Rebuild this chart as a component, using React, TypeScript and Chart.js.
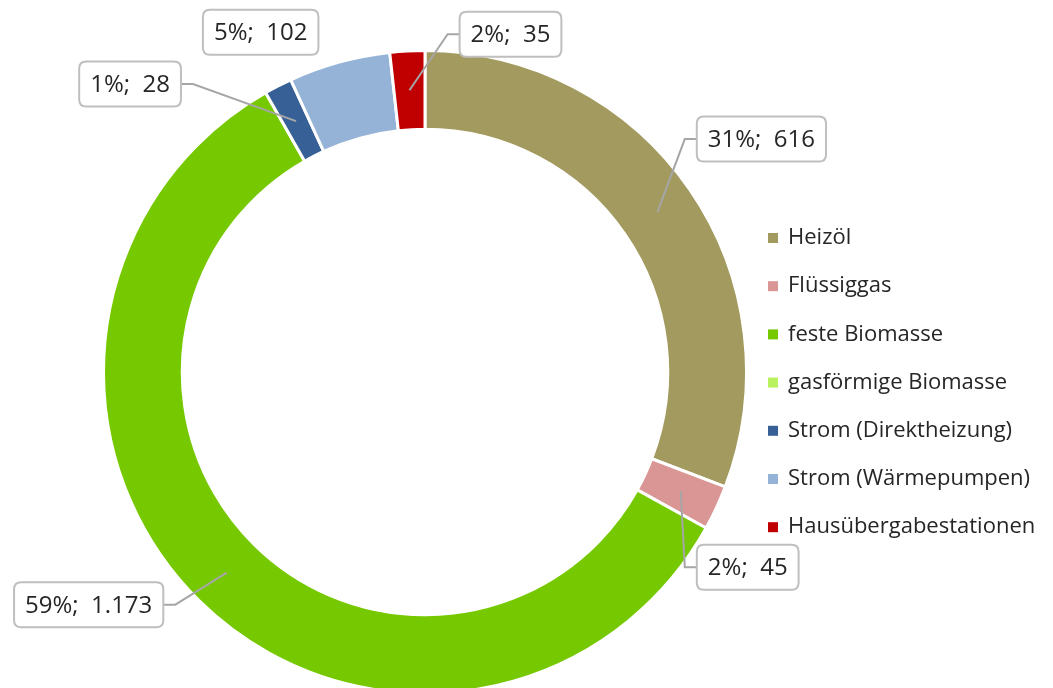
import React, { useEffect, useRef } from "react";
import { Chart, registerables } from "chart.js";

Chart.register(...registerables);

const categories = [
  "Heizöl",
  "Flüssiggas",
  "feste Biomasse",
  "gasförmige Biomasse",
  "Strom (Direktheizung)",
  "Strom (Wärmepumpen)",
  "Hausübergabestationen",
];
const values = [616, 45, 1173, 0, 28, 102, 35];

const colors = ["#A39A5F", "#DA9694", "#76C900", "#B9F25E", "#376196", "#95B3D7", "#C00000"];

// label box offsets from the arc mid-point (layout only), null = no label
const labelOffsets: ([number, number] | null)[] = [
  [104, -73],
  [67, 76],
  [-138, 32],
  null,
  [-166, -37],
  [-89, -68],
  [101, -56],
];
const drawLeader = [true, true, true, false, true, false, true];

const FONT = "'Open Sans', 'Noto Sans', sans-serif";

function fmtDe(n: number): string {
  const s = String(Math.round(n));
  return s.replace(/\B(?=(\d{3})+(?!\d))/g, ".");
}

function roundRect(ctx: CanvasRenderingContext2D, x: number, y: number, w: number, h: number, r: number) {
  ctx.beginPath();
  ctx.moveTo(x + r, y);
  ctx.lineTo(x + w - r, y);
  ctx.quadraticCurveTo(x + w, y, x + w, y + r);
  ctx.lineTo(x + w, y + h - r);
  ctx.quadraticCurveTo(x + w, y + h, x + w - r, y + h);
  ctx.lineTo(x + r, y + h);
  ctx.quadraticCurveTo(x, y + h, x, y + h - r);
  ctx.lineTo(x, y + r);
  ctx.quadraticCurveTo(x, y, x + r, y);
  ctx.closePath();
}

const labelPlugin = {
  id: "calloutLabels",
  afterDatasetsDraw(chart: any) {
    const ctx: CanvasRenderingContext2D = chart.ctx;
    const meta = chart.getDatasetMeta(0);
    const total = values.reduce((a, b) => a + b, 0);
    ctx.save();
    ctx.font = `24px ${FONT}`;
    meta.data.forEach((arc: any, i: number) => {
      const off = labelOffsets[i];
      if (!off || values[i] === 0) return;
      const p = arc.getProps(["x", "y", "startAngle", "endAngle", "innerRadius", "outerRadius"], true);
      const mid = (p.startAngle + p.endAngle) / 2;
      const r = (p.innerRadius + p.outerRadius) / 2;
      const ax = p.x + Math.cos(mid) * r;
      const ay = p.y + Math.sin(mid) * r;
      const text = `${Math.round((values[i] / total) * 100)}%;  ${fmtDe(values[i])}`;
      const tw = ctx.measureText(text).width;
      const bw = tw + 22;
      const bh = 45;
      const cx = ax + off[0];
      const cy = ay + off[1];
      const bx = cx - bw / 2;
      const by = cy - bh / 2;
      if (drawLeader[i]) {
        ctx.strokeStyle = "#A6A6A6";
        ctx.lineWidth = 2;
        ctx.beginPath();
        ctx.moveTo(ax, ay);
        if (cx > ax) {
          ctx.lineTo(bx - 12, cy);
          ctx.lineTo(bx, cy);
        } else {
          ctx.lineTo(bx + bw + 12, cy);
          ctx.lineTo(bx + bw, cy);
        }
        ctx.stroke();
      }
      roundRect(ctx, bx, by, bw, bh, 7);
      ctx.fillStyle = "#FFFFFF";
      ctx.fill();
      ctx.strokeStyle = "#BFBFBF";
      ctx.lineWidth = 2;
      ctx.stroke();
      ctx.fillStyle = "#262626";
      ctx.textAlign = "center";
      ctx.textBaseline = "middle";
      ctx.fillText(text, cx, cy + 1);
    });
    ctx.restore();
  },
};

const legendPlugin = {
  id: "sideLegend",
  afterDraw(chart: any) {
    const ctx: CanvasRenderingContext2D = chart.ctx;
    ctx.save();
    ctx.font = `22px ${FONT}`;
    ctx.textBaseline = "middle";
    ctx.textAlign = "left";
    const x0 = 768;
    const y0 = 238;
    const step = 48.2;
    categories.forEach((c, i) => {
      const y = y0 + i * step;
      ctx.fillStyle = colors[i];
      ctx.fillRect(x0, y - 5, 10, 10);
      ctx.fillStyle = "#262626";
      ctx.fillText(c, x0 + 20, y);
    });
    ctx.restore();
  },
};

export default function App() {
  const ref = useRef<HTMLCanvasElement | null>(null);
  useEffect(() => {
    if (!ref.current) return;
    const chart = new Chart(ref.current, {
      type: "doughnut",
      data: {
        labels: categories,
        datasets: [
          {
            data: values,
            backgroundColor: colors,
            borderColor: "#FFFFFF",
            borderWidth: 3,
            radius: 321.5,
            clip: false as any,
          } as any,
        ],
      },
      options: {
        responsive: false,
        maintainAspectRatio: false,
        animation: false,
        cutout: "75.5%",
        rotation: 0,
        layout: { padding: { left: 0, right: 203, top: 56, bottom: 0 } },
        plugins: {
          legend: { display: false },
          tooltip: { enabled: false },
        },
      } as any,
      plugins: [labelPlugin, legendPlugin],
    });
    return () => chart.destroy();
  }, []);
  return (
    <div style={{ position: "fixed", left: 0, top: 0, width: 1053, height: 688, background: "#fff" }}>
      <canvas ref={ref} width={1053} height={688} style={{ width: 1053, height: 688 }} />
    </div>
  );
}
